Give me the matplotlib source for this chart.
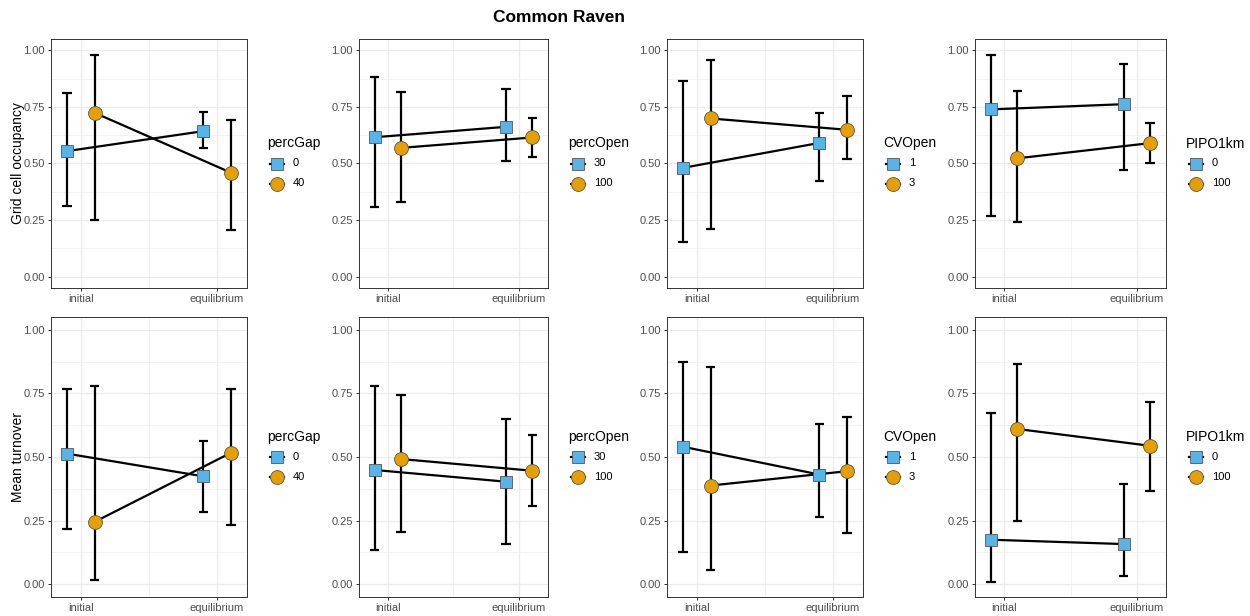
import numpy as np
import matplotlib
matplotlib.use("Agg")
import matplotlib.pyplot as plt
from matplotlib.lines import Line2D

plt.rcParams["font.family"] = ["Liberation Sans", "DejaVu Sans"]

# categories and factors
categories = ["initial", "equilibrium"]
factors = ["percGap", "percOpen", "CVOpen", "PIPO1km"]
factor_levels = [["0", "40"], ["30", "100"], ["1", "3"], ["0", "100"]]

# grid cell occupancy, first level (square) per factor: [initial, equilibrium]
occ_sq_mean = [[0.555, 0.643], [0.616, 0.662], [0.481, 0.591], [0.739, 0.762]]
occ_sq_lo = [[0.311, 0.568], [0.310, 0.513], [0.153, 0.422], [0.269, 0.473]]
occ_sq_hi = [[0.812, 0.728], [0.882, 0.829], [0.865, 0.721], [0.981, 0.940]]
# second level (circle)
occ_ci_mean = [[0.724, 0.460], [0.569, 0.615], [0.699, 0.649], [0.523, 0.590]]
occ_ci_lo = [[0.250, 0.206], [0.328, 0.529], [0.212, 0.518], [0.240, 0.504]]
occ_ci_hi = [[0.981, 0.692], [0.816, 0.703], [0.959, 0.797], [0.819, 0.680]]

# mean turnover
turn_sq_mean = [[0.513, 0.424], [0.449, 0.403], [0.540, 0.431], [0.175, 0.158]]
turn_sq_lo = [[0.219, 0.285], [0.133, 0.159], [0.127, 0.264], [0.007, 0.031]]
turn_sq_hi = [[0.766, 0.564], [0.777, 0.649], [0.873, 0.629], [0.674, 0.394]]
turn_ci_mean = [[0.245, 0.516], [0.492, 0.446], [0.388, 0.444], [0.610, 0.544]]
turn_ci_lo = [[0.016, 0.231], [0.206, 0.307], [0.056, 0.202], [0.247, 0.367]]
turn_ci_hi = [[0.777, 0.766], [0.745, 0.585], [0.855, 0.659], [0.864, 0.715]]

W, H = 1250, 616
fig = plt.figure(figsize=(W / 100, H / 100), dpi=100)

col_px = [(51, 247), (359, 548), (667, 863), (975, 1166)]
row_px = [(39, 288), (317, 597)]
row_labels = ["Grid cell occupancy", "Mean turnover"]

SQ_COL = "#56B4E9"
CI_COL = "#E69F00"
GRID = "#EBEBEB"
DARK = "#333333"
TXT = "#4D4D4D"


def draw_panel(ax, sq_m, sq_lo, sq_hi, ci_m, ci_lo, ci_hi):
    x = np.arange(1, len(categories) + 1)
    dodge = 0.1
    cap = 0.036
    for xs, m, lo, hi, mk, col, ms in [
        (x - dodge, sq_m, sq_lo, sq_hi, "s", SQ_COL, 9),
        (x + dodge, ci_m, ci_lo, ci_hi, "o", CI_COL, 10),
    ]:
        ax.plot(xs, m, color="black", lw=1.6, zorder=3)
        ax.vlines(xs, lo, hi, color="black", lw=1.6, zorder=3)
        ax.hlines(lo, xs - cap, xs + cap, color="black", lw=1.6, zorder=3)
        ax.hlines(hi, xs - cap, xs + cap, color="black", lw=1.6, zorder=3)
        ax.plot(xs, m, linestyle="none", marker=mk, markersize=ms,
                markerfacecolor=col, markeredgecolor="#555555",
                markeredgewidth=0.6, zorder=4)

    ax.set_xlim(0.78, 2.22)
    ax.set_ylim(-0.05, 1.05)
    ax.set_xticks(x)
    ax.set_xticklabels(categories)
    ax.set_yticks([0, 0.25, 0.5, 0.75, 1.0])
    ax.set_yticklabels(["0.00", "0.25", "0.50", "0.75", "1.00"])
    ax.set_xticks([1.5], minor=True)
    ax.set_yticks([0.125, 0.375, 0.625, 0.875], minor=True)
    ax.grid(True, which="major", color=GRID, lw=0.9, zorder=0)
    ax.grid(True, which="minor", color=GRID, lw=0.45, zorder=0)
    ax.set_axisbelow(True)
    ax.tick_params(which="major", length=2.5, width=0.7, color=DARK,
                   labelsize=8, labelcolor=TXT, pad=2)
    ax.tick_params(which="minor", length=0)
    for s in ax.spines.values():
        s.set_color(DARK)
        s.set_linewidth(0.7)


for r in range(2):
    top, bot = row_px[r]
    for c in range(4):
        left, right = col_px[c]
        ax = fig.add_axes([left / W, 1 - bot / H, (right - left) / W, (bot - top) / H])
        if r == 0:
            draw_panel(ax, occ_sq_mean[c], occ_sq_lo[c], occ_sq_hi[c],
                       occ_ci_mean[c], occ_ci_lo[c], occ_ci_hi[c])
        else:
            draw_panel(ax, turn_sq_mean[c], turn_sq_lo[c], turn_sq_hi[c],
                       turn_ci_mean[c], turn_ci_lo[c], turn_ci_hi[c])
        if c == 0:
            ax.set_ylabel(row_labels[r], fontsize=10, color="black")
            ax.yaxis.set_label_coords(-0.135, 0.5)

        # legend drawn by hand next to each panel
        mid = (top + bot) / 2
        lx = right + 20
        fig.text(lx / W, 1 - (mid - 20) / H, factors[c], fontsize=10,
                 ha="left", va="center")
        for k, (mk, col, ms) in enumerate([("s", SQ_COL, 9), ("o", CI_COL, 10)]):
            ky = 1 - (mid + k * 20) / H
            kx = (lx + 10) / W
            fig.add_artist(Line2D([kx - 7 / W, kx + 7 / W], [ky, ky],
                                  color="black", lw=1.6))
            fig.add_artist(Line2D([kx], [ky], marker=mk, markersize=ms,
                                  markerfacecolor=col, markeredgecolor="#555555",
                                  markeredgewidth=0.6, linestyle="none"))
            fig.text((lx + 26) / W, ky, factor_levels[c][k], fontsize=8,
                     ha="left", va="center", color="black")

fig.text(559 / W, 1 - 17 / H, "Common Raven", fontsize=12.5, fontweight="bold",
         ha="center", va="center")

fig.savefig("out.png", dpi=100)
